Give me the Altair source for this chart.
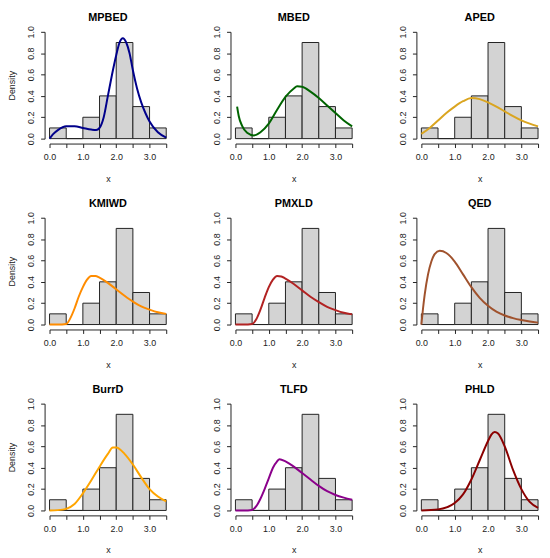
import altair as alt
import pandas as pd

# Histogram (shared by all panels)
bin_lo = [0.0, 0.5, 1.0, 1.5, 2.0, 2.5, 3.0]
bin_hi = [0.5, 1.0, 1.5, 2.0, 2.5, 3.0, 3.5]
density = [0.1, 0.0, 0.2, 0.4, 0.9, 0.3, 0.1]

names = ["MPBED", "MBED", "APED", "KMIWD", "PMXLD", "QED", "BurrD", "TLFD", "PHLD"]
colors = ["#00008B", "#006400", "#DAA520", "#FF8C00", "#B22222", "#A0522D",
          "#FFA500", "#8B008B", "#8B0000"]

# Fitted density curves
MPBED_x = [0.0, 0.1, 0.25, 0.5, 0.75, 1.0, 1.25, 1.4, 1.5, 1.625, 1.75, 1.875, 2.0, 2.1, 2.2, 2.3, 2.4, 2.5, 2.625, 2.75, 2.875, 3.0, 3.25, 3.5]
MPBED_y = [0.0, 0.04, 0.08, 0.115, 0.115, 0.10, 0.085, 0.08, 0.10, 0.2, 0.4, 0.6, 0.78, 0.9, 0.94, 0.9, 0.8, 0.64, 0.47, 0.34, 0.24, 0.16, 0.06, 0.01]

MBED_x = [0.05, 0.1, 0.2, 0.35, 0.55, 0.75, 1.0, 1.25, 1.5, 1.75, 1.85, 2.0, 2.25, 2.5, 2.75, 3.0, 3.25, 3.5]
MBED_y = [0.30, 0.21, 0.12, 0.055, 0.03, 0.06, 0.14, 0.27, 0.39, 0.47, 0.49, 0.485, 0.44, 0.38, 0.31, 0.24, 0.17, 0.115]

APED_x = [0.0, 0.25, 0.5, 0.75, 1.0, 1.25, 1.5, 1.75, 2.0, 2.25, 2.5, 2.75, 3.0, 3.25, 3.5]
APED_y = [0.045, 0.1, 0.17, 0.24, 0.30, 0.35, 0.38, 0.37, 0.34, 0.30, 0.255, 0.21, 0.17, 0.14, 0.115]

KMIWD_x = [0.0, 0.25, 0.5, 0.625, 0.75, 0.875, 1.0, 1.125, 1.25, 1.375, 1.5, 1.75, 2.0, 2.25, 2.5, 2.75, 3.0, 3.25, 3.5]
KMIWD_y = [0.0, 0.0, 0.005, 0.06, 0.15, 0.26, 0.35, 0.42, 0.455, 0.455, 0.44, 0.39, 0.33, 0.27, 0.215, 0.17, 0.14, 0.115, 0.10]

PMXLD_x = [0.0, 0.25, 0.5, 0.625, 0.75, 0.875, 1.0, 1.125, 1.25, 1.375, 1.5, 1.75, 2.0, 2.25, 2.5, 2.75, 3.0, 3.25, 3.5]
PMXLD_y = [0.0, 0.0, 0.005, 0.05, 0.14, 0.25, 0.35, 0.42, 0.455, 0.45, 0.43, 0.38, 0.32, 0.26, 0.21, 0.165, 0.135, 0.11, 0.095]

QED_x = [0.0, 0.05, 0.1, 0.2, 0.3, 0.4, 0.55, 0.75, 1.0, 1.25, 1.5, 1.75, 2.0, 2.25, 2.5, 2.75, 3.0, 3.25, 3.5]
QED_y = [0.0, 0.15, 0.28, 0.47, 0.59, 0.66, 0.69, 0.67, 0.59, 0.47, 0.35, 0.25, 0.175, 0.12, 0.085, 0.06, 0.042, 0.028, 0.018]

BurrD_x = [0.0, 0.25, 0.5, 0.75, 1.0, 1.25, 1.5, 1.75, 1.9, 2.0, 2.25, 2.5, 2.75, 3.0, 3.25, 3.5]
BurrD_y = [0.0, 0.003, 0.015, 0.06, 0.16, 0.28, 0.41, 0.53, 0.59, 0.59, 0.53, 0.43, 0.31, 0.2, 0.13, 0.085]

TLFD_x = [0.0, 0.25, 0.5, 0.625, 0.75, 0.875, 1.0, 1.125, 1.25, 1.32, 1.5, 1.75, 2.0, 2.25, 2.5, 2.75, 3.0, 3.25, 3.5]
TLFD_y = [0.0, 0.0, 0.005, 0.04, 0.11, 0.2, 0.3, 0.4, 0.46, 0.48, 0.46, 0.41, 0.35, 0.29, 0.23, 0.18, 0.145, 0.12, 0.10]

PHLD_x = [0.0, 0.5, 1.0, 1.25, 1.5, 1.75, 2.0, 2.1, 2.2, 2.3, 2.5, 2.75, 3.0, 3.25, 3.5]
PHLD_y = [0.0, 0.01, 0.07, 0.15, 0.29, 0.47, 0.65, 0.71, 0.735, 0.72, 0.6, 0.38, 0.2, 0.08, 0.025]

curves = {
    "MPBED": (MPBED_x, MPBED_y), "MBED": (MBED_x, MBED_y), "APED": (APED_x, APED_y),
    "KMIWD": (KMIWD_x, KMIWD_y), "PMXLD": (PMXLD_x, PMXLD_y), "QED": (QED_x, QED_y),
    "BurrD": (BurrD_x, BurrD_y), "TLFD": (TLFD_x, TLFD_y), "PHLD": (PHLD_x, PHLD_y),
}

x_ticks = [0.0, 0.5, 1.0, 1.5, 2.0, 2.5, 3.0, 3.5]
y_ticks = [0.0, 0.2, 0.4, 0.6, 0.8, 1.0]

hist_df = pd.DataFrame({"lo": bin_lo, "hi": bin_hi, "dens": density, "base": [0.0] * len(density)})

FONT = "Liberation Sans"
AX = "#222222"


def panel(i, name):
    xs, ys = curves[name]
    cdf = pd.DataFrame({"x": xs, "y": ys})
    xscale = alt.Scale(domain=[0, 3.5], nice=False, zero=False)
    yscale = alt.Scale(domain=[0, 1], nice=False)
    xaxis = alt.Axis(values=x_ticks, title="x", labelOverlap=False, labelFlush=False,
                     labelExpr="(round(datum.value*2) % 2 == 0) ? format(datum.value, '.1f') : ''")
    ykw = dict(values=y_ticks, format=".1f", labelAngle=270, labelOverlap=False, labelFlush=False,
               labelAlign="center", labelBaseline="bottom")
    ykw["title"] = "Density" if i % 3 == 0 else ""
    yaxis = alt.Axis(**ykw)
    bars = alt.Chart(hist_df).mark_rect(fill="#D3D3D3", stroke=AX, strokeWidth=1).encode(
        x=alt.X("lo:Q", scale=xscale, axis=xaxis),
        x2="hi:Q",
        y=alt.Y("dens:Q", scale=yscale, axis=yaxis),
        y2="base:Q",
    )
    line = alt.Chart(cdf).mark_line(color=colors[i], strokeWidth=2, interpolate="monotone").encode(
        x=alt.X("x:Q", scale=xscale, axis=xaxis),
        y=alt.Y("y:Q", scale=yscale, axis=yaxis),
    )
    return alt.layer(bars, line).properties(
        width=118, height=108,
        title=alt.TitleParams(name, font=FONT, fontSize=11, fontWeight="bold", color="#000", offset=3),
    )


panels = [panel(i, n) for i, n in enumerate(names)]

chart = alt.concat(*panels, columns=3, spacing={"row": 80, "column": 70}, bounds="flush").properties(
    padding={"left": 0, "top": 0, "right": 0, "bottom": 0}
).configure_view(stroke=None).configure_axis(
    grid=False, domainColor=AX, tickColor=AX, tickSize=4, offset=5,
    labelFont=FONT, labelFontSize=9, labelColor="#222", labelPadding=5,
    labelOverlap=False, labelFlush=False,
    titleFont=FONT, titleFontSize=9, titleFontWeight="normal", titleColor="#222",
).configure_axisX(titlePadding=13).configure_axisY(titlePadding=10)

chart.save("out.html", embed_options={"renderer": "svg", "actions": False})
